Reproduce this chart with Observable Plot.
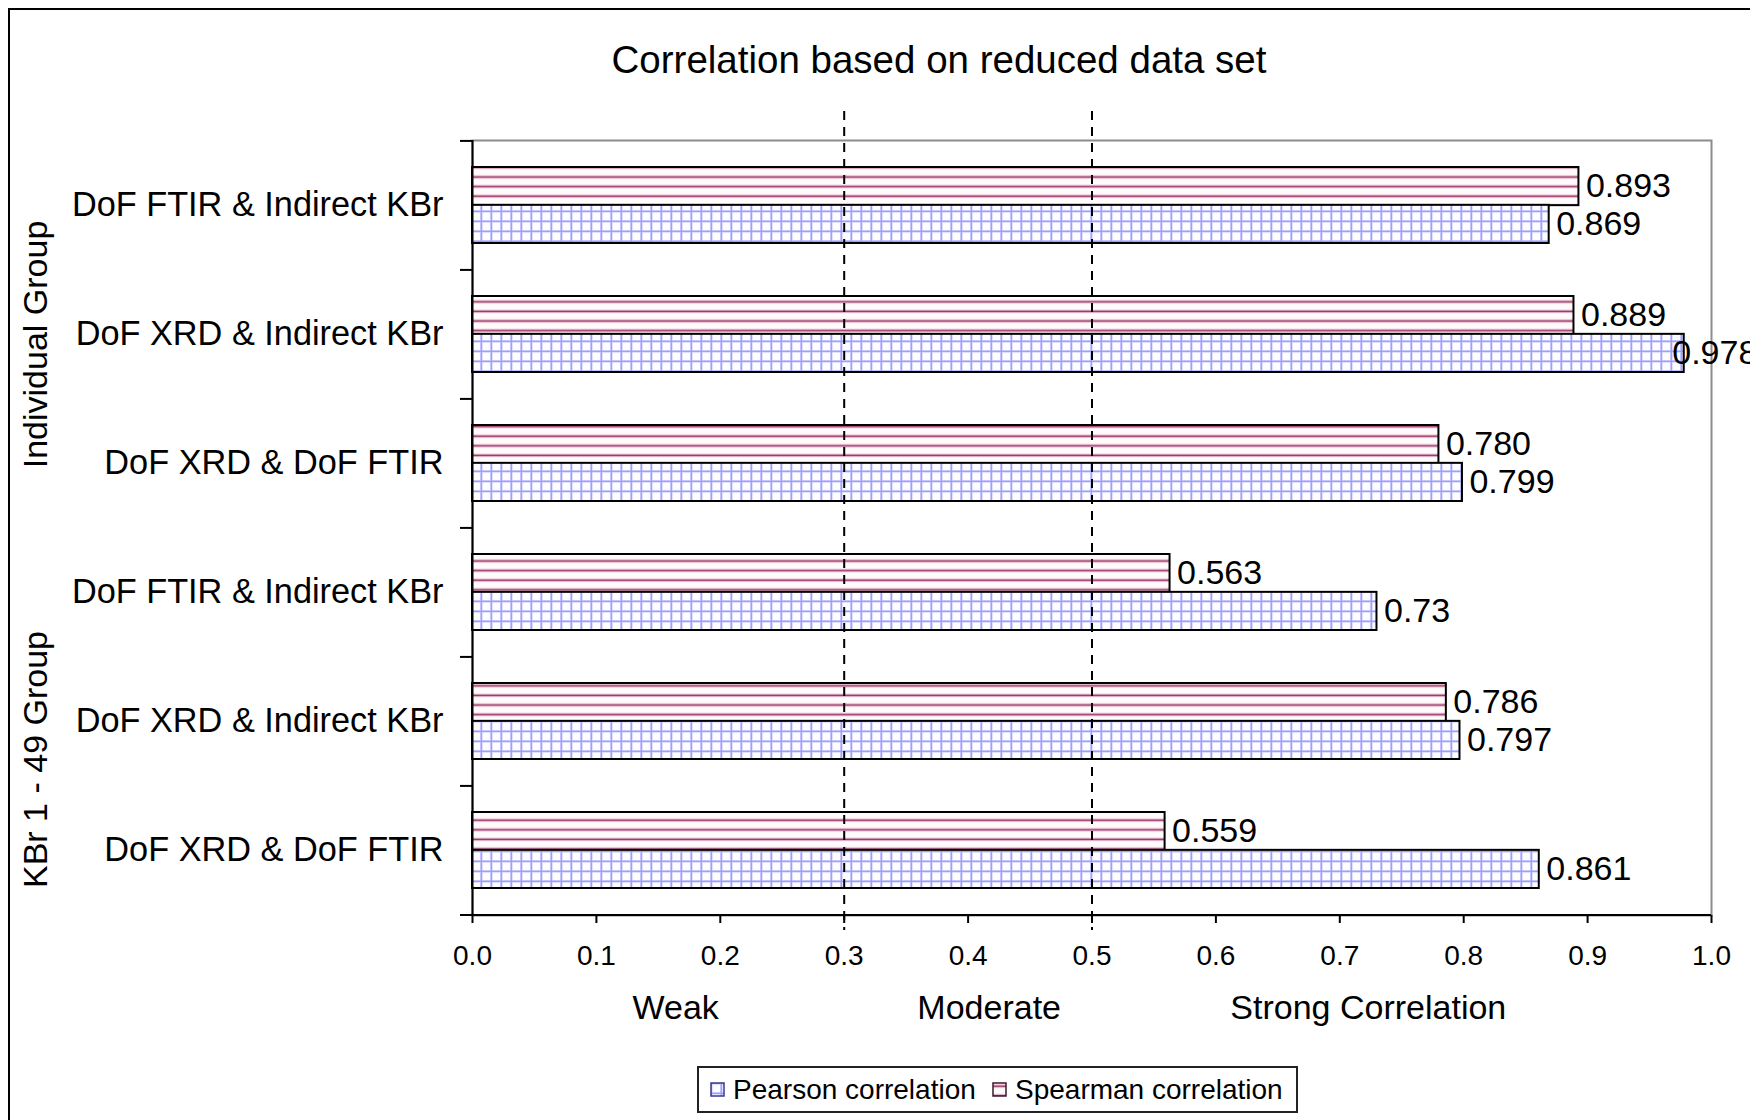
<!DOCTYPE html>
<html>
<head>
<meta charset="utf-8">
<script src="https://cdn.jsdelivr.net/npm/d3@7"></script>
<script src="https://cdn.jsdelivr.net/npm/@observablehq/plot@0.6"></script>
<style>
  html, body { margin: 0; padding: 0; background: #fff; overflow: hidden; }
  #wrap { position: relative; width: 1750px; height: 1120px; overflow: hidden; background: #fff;
          font-family: "Liberation Sans", Arial, sans-serif; color: #000; }
  #border { position: absolute; left: 8px; top: 8px; width: 1800px; height: 1200px;
            border-left: 2px solid #000; border-top: 2px solid #000; }
  #title { position: absolute; left: 439px; width: 1000px; top: 37px; text-align: center;
           font-size: 38.5px; line-height: 46px; }
  #chart { position: absolute; left: 0; top: 0; }
  #chart svg { max-width: none; }
  #legend { position: absolute; left: 697px; top: 1066px; width: 597px; height: 43px;
            border: 2px solid #222; font-size: 28px; }
  .lg { position: absolute; top: 0; height: 43px; line-height: 43px; white-space: nowrap; }
  .sw { position: absolute; top: 14px; }
</style>
</head>
<body>
<svg width="0" height="0" style="position:absolute">
  <defs>
    <pattern id="pearsonPat" patternUnits="userSpaceOnUse" width="10" height="10">
      <rect width="10" height="10" fill="#fdfdff"/>
      <rect x="0" y="0" width="10" height="2.6" fill="#d0d0ff"/>
      <rect x="0" y="0" width="2.6" height="10" fill="#d0d0ff"/>
      <rect x="0" y="0.8" width="10" height="1" fill="#9494ff"/>
      <rect x="0.8" y="0" width="1" height="10" fill="#9494ff"/>
    </pattern>
    <pattern id="spearmanPat" patternUnits="userSpaceOnUse" width="9.6" height="9.6">
      <rect width="9.6" height="9.6" fill="#fffafc"/>
      <rect x="0" y="2.5" width="9.6" height="3.4" fill="#e6bccf"/>
      <rect x="0" y="3.5" width="9.6" height="1.4" fill="#9c3a68"/>
    </pattern>
  </defs>
</svg>
<div id="wrap">
  <div id="border"></div>
  <div id="title">Correlation based on reduced data set</div>
  <div id="chart"></div>
  <div id="legend">
    <svg class="sw" style="left:11px" width="15" height="15"><rect x="1" y="1" width="13" height="13" fill="url(#pearsonPat)" stroke="#3a3a8a" stroke-width="1.5"/></svg>
    <div class="lg" style="left:34px">Pearson correlation</div>
    <svg class="sw" style="left:293px" width="15" height="15"><rect x="1" y="1" width="13" height="13" fill="url(#spearmanPat)" stroke="#3a1a2a" stroke-width="1.5"/></svg>
    <div class="lg" style="left:316px">Spearman correlation</div>
  </div>
</div>
<script>
// ---- data ----
const groups = ["Individual Group", "KBr 1 - 49 Group"];
const pairs = ["DoF FTIR & Indirect KBr", "DoF XRD & Indirect KBr", "DoF XRD & DoF FTIR"];
const pearson  = [0.869, 0.978, 0.799, 0.73, 0.797, 0.861];
const spearman = [0.893, 0.889, 0.780, 0.563, 0.786, 0.559];
const pearsonLabels  = ["0.869", "0.978", "0.799", "0.73", "0.797", "0.861"];
const spearmanLabels = ["0.893", "0.889", "0.780", "0.563", "0.786", "0.559"];
const xTicks = [0, 0.1, 0.2, 0.3, 0.4, 0.5, 0.6, 0.7, 0.8, 0.9, 1.0];
const thresholds = [0.3, 0.5];
const zones = ["Weak", "Moderate", "Strong Correlation"];
const zoneX = [0.164, 0.417, 0.723];

// ---- build table ----
const keys = groups.flatMap(g => pairs.map(p => g + "|" + p));
const rows = keys.map((key, i) => ({
  key, pearson: pearson[i], spearman: spearman[i],
  pLabel: pearsonLabels[i], sLabel: spearmanLabels[i]
}));

// ---- layout ----
const W = 1750, H = 1120;
const mL = 472, mR = 39, mT = 140, mB = 205;
const frameW = W - mL - mR;
const step = (H - mT - mB) / keys.length;
const padIn = 0.414;
const bw = step * (1 - padIn);
const font = "Liberation Sans, Arial, sans-serif";

const fits = d => d.pearson < 0.95;

const plot = Plot.plot({
  width: W, height: H,
  marginLeft: mL, marginRight: mR, marginTop: mT, marginBottom: mB,
  style: { fontFamily: font, color: "#000", background: "transparent", overflow: "visible" },
  x: { domain: [0, 1] },
  y: { domain: keys, paddingInner: padIn, paddingOuter: padIn / 2 },
  marks: [
    Plot.frame({ stroke: "#8c8c8c", strokeWidth: 2 }),
    Plot.barX(rows, { x: "spearman", y: "key", fill: "url(#spearmanPat)", stroke: "#000", strokeWidth: 2, insetBottom: bw / 2 }),
    Plot.barX(rows, { x: "pearson", y: "key", fill: "url(#pearsonPat)", stroke: "#000", strokeWidth: 2, insetTop: bw / 2 }),
    Plot.ruleX(thresholds, { stroke: "#000", strokeWidth: 2, strokeDasharray: "9,7", insetTop: -29, insetBottom: -15 }),
    Plot.ruleX([0], { stroke: "#000", strokeWidth: 2 }),
    Plot.tickY([keys[keys.length - 1]], { dy: step / 2, insetLeft: -12, stroke: "#000", strokeWidth: 2 }),
    Plot.tickY(keys, { dy: -step / 2, insetLeft: -12, insetRight: frameW, stroke: "#000", strokeWidth: 2 }),
    Plot.axisX(xTicks, { tickSize: 8, tickPadding: 22, fontSize: 28, strokeWidth: 2, tickFormat: d3.format(".1f"), label: null }),
    Plot.axisY({ tickSize: 0, tickPadding: 29, fontSize: 34.3, tickFormat: k => k.split("|")[1], label: null }),
    Plot.text(rows, { x: "spearman", y: "key", text: "sLabel", textAnchor: "start", dx: 7, dy: -bw / 4, fontSize: 34 }),
    Plot.text(rows, Plot.filter(fits, { x: "pearson", y: "key", text: "pLabel", textAnchor: "start", dx: 7, dy: bw / 4, fontSize: 34 })),
    Plot.text(rows, Plot.filter(d => !fits(d), { x: "pearson", y: "key", text: "pLabel", textAnchor: "start", dx: -12, dy: bw / 4, fontSize: 34 })),
    Plot.text(zones, { x: (d, i) => zoneX[i], text: d => d, frameAnchor: "bottom", dy: 103, fontSize: 34 }),
    Plot.text([groups[0]], { y: [keys[1]], text: d => d, frameAnchor: "left", textAnchor: "middle", dx: 36 - mL, dy: 10, rotate: -90, fontSize: 34 }),
    Plot.text([groups[1]], { y: [keys[4]], text: d => d, frameAnchor: "left", textAnchor: "middle", dx: 36 - mL, dy: 38, rotate: -90, fontSize: 34 })
  ]
});
document.getElementById("chart").appendChild(plot);
</script>
</body>
</html>
